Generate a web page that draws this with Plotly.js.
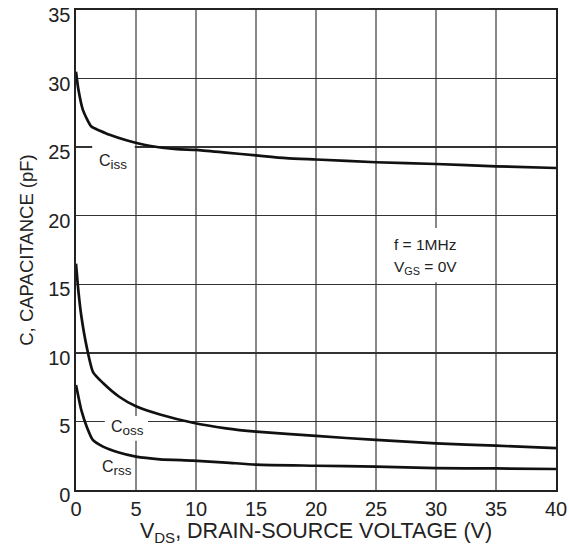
<!DOCTYPE html>
<html>
<head>
<meta charset="utf-8">
<script src="https://cdn.plot.ly/plotly-3.0.1.min.js"></script>
<style>html,body{margin:0;padding:0;background:#fff;}#chart{width:569px;height:546px;}</style>
</head>
<body>
<div id="chart"></div>
<script>
// Data
const cissX = [0, 0.2, 0.58, 1.28, 2, 2.8, 4.2, 6.1, 8.4, 10, 12.5, 15, 17.5, 20, 25, 30, 35, 40];
const cissY = [30.5, 29.2, 27.7, 26.5, 26.2, 25.9, 25.5, 25.1, 24.85, 24.8, 24.6, 24.4, 24.2, 24.1, 23.9, 23.77, 23.6, 23.48];

const cossX = [0, 0.2, 0.45, 0.9, 1.42, 2.25, 3.6, 5, 7, 9.75, 12.5, 15, 20, 25, 30, 35, 40];
const cossY = [16.5, 14.5, 12.65, 10.4, 8.6, 7.8, 6.8, 6.1, 5.5, 4.9, 4.5, 4.26, 3.94, 3.65, 3.4, 3.23, 3.06];

const crssX = [0, 0.2, 0.45, 0.9, 1.4, 2.25, 3.5, 5, 7, 9.75, 12.5, 15, 20, 25, 30, 35, 40];
const crssY = [7.66, 6.8, 5.8, 4.6, 3.65, 3.16, 2.75, 2.43, 2.24, 2.14, 2.0, 1.85, 1.77, 1.7, 1.6, 1.57, 1.53];

const xTicks = [0, 5, 10, 15, 20, 25, 30, 35, 40];
const yTicks = [0, 5, 10, 15, 20, 25, 30, 35];

const sub = s => '<sub><span style="font-size:13.5px">' + s + '</span></sub>';
const seriesNames = ["C" + sub("iss"), "C" + sub("oss"), "C" + sub("rss")];

const lineStyle = {color: "#111", width: 2.7, shape: "spline", smoothing: 0.6};
const traces = [
  {x: cissX, y: cissY, name: seriesNames[0]},
  {x: cossX, y: cossY, name: seriesNames[1]},
  {x: crssX, y: crssY, name: seriesNames[2]}
].map(t => Object.assign(t, {type: "scatter", mode: "lines", line: lineStyle, hoverinfo: "skip"}));

const font = {family: "Liberation Sans, Arial, sans-serif", color: "#222"};
const f = size => Object.assign({size: size}, font);

const layout = {
  width: 569, height: 546,
  margin: {l: 76, r: 13, t: 10, b: 56},
  paper_bgcolor: "#fff", plot_bgcolor: "#fff",
  showlegend: false,
  font: f(16),
  xaxis: {
    range: [0, 40], tickvals: xTicks, ticktext: xTicks.map(String),
    showgrid: true, gridcolor: "#888", gridwidth: 1.6,
    showline: true, linecolor: "#222", linewidth: 1.6, mirror: true,
    zeroline: false, ticks: "", ticklen: 0,
    tickfont: f(20),
    title: {text: "V<sub>DS</sub>, DRAIN-SOURCE VOLTAGE (V)", font: f(21.5), standoff: 8}
  },
  yaxis: {
    range: [0, 35], tickvals: yTicks, ticktext: yTicks.map(String),
    showgrid: true, gridcolor: "#333", gridwidth: 1.4,
    showline: true, linecolor: "#222", linewidth: 1.6, mirror: true,
    zeroline: false, ticks: "", ticklen: 0,
    tickfont: f(20), ticklabelshift: 5,
    title: {text: "C, CAPACITANCE (pF)", font: f(18.5), standoff: 9}
  },
  shapes: [
    {type: "rect", xref: "x", yref: "y", x0: 1.35, x1: 4.9, y0: 22.9, y1: 25.3, fillcolor: "#fff", line: {width: 0}, layer: "between"},
    {type: "rect", xref: "x", yref: "y", x0: 2.4, x1: 6.0, y0: 3.6, y1: 5.4, fillcolor: "#fff", line: {width: 0}, layer: "between"},
    {type: "rect", xref: "x", yref: "y", x0: 25.75, x1: 32.67, y0: 15.15, y1: 19.1, fillcolor: "#fff", line: {width: 0}, layer: "between"}
  ],
  annotations: [
    {x: 3.1, y: 23.9, text: seriesNames[0], showarrow: false, font: f(16)},
    {x: 4.3, y: 4.5, text: seriesNames[1], showarrow: false, font: f(16)},
    {x: 3.4, y: 1.6, text: seriesNames[2], showarrow: false, font: f(16)},
    {x: 26.35, y: 17.9, text: "f = 1MHz", showarrow: false, xanchor: "left", font: f(15.5)},
    {x: 26.35, y: 16.2, text: "V<sub>GS</sub> = 0V", showarrow: false, xanchor: "left", font: f(15.5)}
  ]
};

Plotly.newPlot("chart", traces, layout, {displayModeBar: false, staticPlot: true});
</script>
</body>
</html>
